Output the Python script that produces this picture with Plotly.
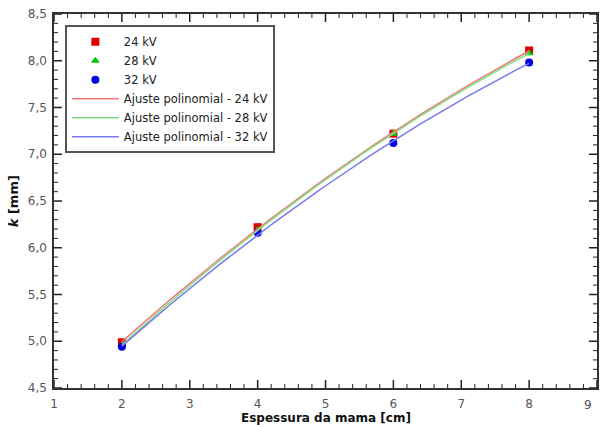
import numpy as np
import plotly.graph_objects as go

espessura = [2, 4, 6, 8]
k_24 = [4.99, 6.22, 7.22, 8.11]
k_28 = [4.96, 6.19, 7.22, 8.08]
k_32 = [4.94, 6.16, 7.12, 7.98]

x_last_tick = "9"

series = [
    ("24 kV", k_24, "#e00000", "square", "#f07878"),
    ("28 kV", k_28, "#00c800", "triangle-up", "#80e080"),
    ("32 kV", k_32, "#0000e0", "circle", "#7878f0"),
]

fig = go.Figure()
xf = np.linspace(min(espessura), max(espessura), 100)
for name, ys, c, sym, lc in series:
    fig.add_trace(go.Scatter(x=espessura, y=ys, mode="markers", name=name,
                             marker=dict(color=c, symbol=sym, size=8, line=dict(width=0))))
for name, ys, c, sym, lc in series:
    p = np.polyfit(espessura, ys, 2)
    fig.add_trace(go.Scatter(x=xf, y=np.polyval(p, xf), mode="lines",
                             name="Ajuste polinomial - " + name,
                             line=dict(color=lc, width=1.5)))

# tick marks (inside, on all four sides), drawn as pixel-sized shapes
tick_col = "#222222"
x_major = np.arange(1, 9.001, 1.0)
x_minor = [v for v in np.arange(1, 9.001, 0.2) if abs(v - round(v)) > 1e-6]
y_major = np.arange(4.5, 8.501, 0.5)
y_minor = [v for v in np.arange(4.5, 8.501, 0.1) if abs(v * 2 - round(v * 2)) > 1e-6]

shapes = []
for vals, ln, w in ((x_major, 8, 1.5), (x_minor, 4, 1)):
    for v in vals:
        for anchor, sgn in ((0, 1), (1, -1)):
            shapes.append(dict(type="line", xref="x", yref="paper", ysizemode="pixel",
                               yanchor=anchor, x0=v, x1=v, y0=0, y1=sgn * ln,
                               line=dict(color=tick_col, width=w), layer="above"))
for vals, ln, w in ((y_major, 8, 1.5), (y_minor, 4, 1)):
    for v in vals:
        for anchor, sgn in ((0, 1), (1, -1)):
            shapes.append(dict(type="line", xref="paper", yref="y", xsizemode="pixel",
                               xanchor=anchor, y0=v, y1=v, x0=0, x1=sgn * ln,
                               line=dict(color=tick_col, width=w), layer="above"))

fig.update_layout(
    width=600, height=427,
    margin=dict(l=54, r=3, t=14, b=39, autoexpand=False),
    plot_bgcolor="white", paper_bgcolor="white",
    separators=",.",
    xaxis=dict(range=[1, 9], tickmode="linear", tick0=1, dtick=1,
               showline=True, linecolor="#333333", linewidth=1.5, mirror=True,
               ticks="", showgrid=False, zeroline=False, ticklabelstandoff=4,
               tickfont=dict(family="DejaVu Sans", size=12, color="#555555")),
    yaxis=dict(range=[4.5, 8.5], tickmode="linear", tick0=4.5, dtick=0.5, tickformat=".1f",
               showline=True, linecolor="#333333", linewidth=1.5, mirror=True,
               ticks="", showgrid=False, zeroline=False, ticklabelstandoff=3,
               tickfont=dict(family="DejaVu Sans", size=12, color="#555555")),
    legend=dict(x=0.02, y=0.97, xanchor="left", yanchor="top",
                bgcolor="white", bordercolor="#555555", borderwidth=2,
                font=dict(family="DejaVu Sans", size=11.5, color="#222222"),
                itemwidth=47),
    showlegend=True,
    shapes=shapes,
    annotations=[
        dict(text="Espessura da mama [cm]", xref="paper", yref="paper", x=0.5, y=-0.1043,
             xanchor="center", yanchor="bottom", showarrow=False,
             font=dict(family="DejaVu Sans", size=12, color="#111111", weight="bold")),
        dict(text="<b><i>k</i> [mm]</b>", xref="paper", yref="paper", x=-0.075, y=0.5,
             xanchor="center", yanchor="middle", showarrow=False, textangle=-90,
             font=dict(family="DejaVu Sans", size=13, color="#111111")),
        dict(text=x_last_tick, xref="x", yref="paper", x=9, y=-0.022,
             xanchor="right", yanchor="top", xshift=-3, showarrow=False,
             font=dict(family="DejaVu Sans", size=12, color="#555555")),
    ],
)

fig.write_html("out.html", config={"displayModeBar": False},
               post_script="document.body.style.margin='0';")
